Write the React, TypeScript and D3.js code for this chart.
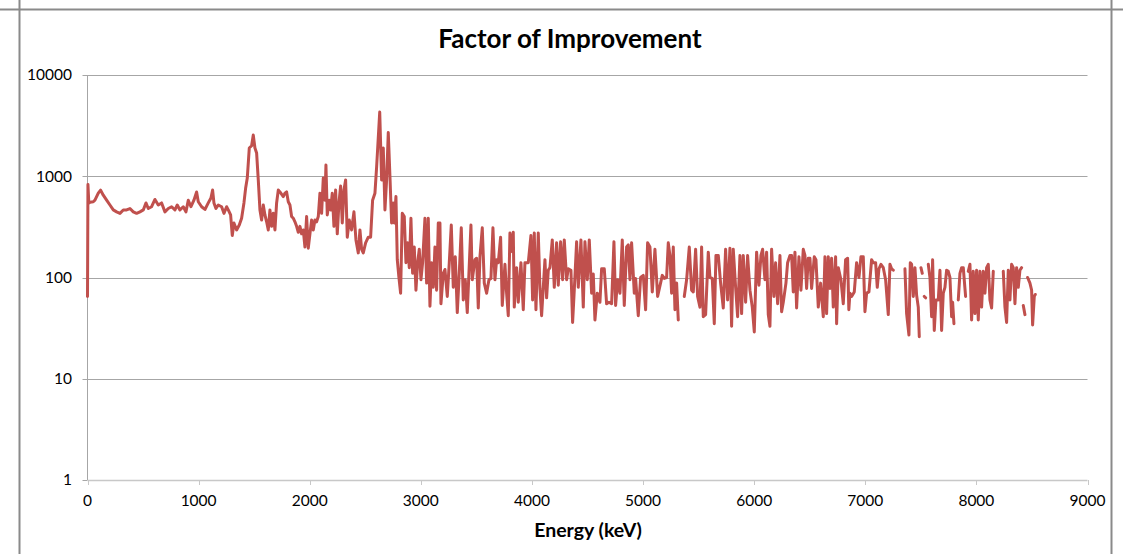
import React from "react";
import * as d3 from "d3";

// Energy (keV) and factor of improvement; null = gap in the series
const energyKeV: number[] = [
  0, 4, 12, 22, 52, 67, 97, 118, 142, 172, 202, 232, 262, 292, 322, 352, 382, 412, 442, 472,
  502, 526, 547, 577, 607, 637, 667, 697, 727, 757, 787, 808, 832, 862, 886, 907, 931, 958, 982, 997,
  1027, 1057, 1087, 1111, 1126, 1138, 1156, 1177, 1207, 1228, 1252, 1267, 1288, 1303, 1318, 1342, 1366, 1387, 1408, 1423,
  1438, 1456, 1477, 1492, 1507, 1522, 1537, 1552, 1567, 1582, 1597, 1612, 1627, 1642, 1657, 1672, 1687, 1702, 1717, 1732,
  1762, 1777, 1792, 1807, 1822, 1837, 1852, 1867, 1882, 1897, 1912, 1927, 1942, 1957, 1972, 1987, 2002, 2017, 2032, 2047,
  2062, 2077, 2092, 2107, 2122, 2137, 2146, 2158, 2176, 2188, 2203, 2218, 2233, 2248, 2263, 2278, 2293, 2308, 2323, 2338,
  2356, 2377, 2398, 2416, 2437, 2452, 2467, 2482, 2503, 2527, 2548, 2566, 2587, 2602, 2630,
  2647, 2662, 2677, 2692, 2707, 2722, 2737, 2752, 2761, 2776, 2788, 2803, 2818, 2833, 2851, 2866, 2881, 2896, 2911, 2926,
  2941, 2956, 2971, 2986, 3001, 3016, 3037, 3052, 3067, 3082, 3097, 3112, 3127, 3142, 3157, 3172, 3181, 3202, 3217, 3238,
  3256, 3274, 3292, 3310, 3328, 3346, 3364, 3382, 3400, 3418,
  3451, 3463, 3487, 3502, 3517, 3532, 3553, 3571, 3592, 3613, 3631, 3649, 3667, 3682, 3697, 3718, 3733, 3757, 3772, 3787,
  3802, 3810, 3832, 3841, 3862, 3877, 3901, 3922, 3937, 3967, 3991, 4006, 4021, 4036, 4057, 4072, 4087, 4117, 4132, 4147,
  4162, 4183, 4201, 4222, 4237, 4258, 4276, 4291, 4312, 4327, 4351, 4366, 4381, 4402, 4417, 4441, 4462, 4477, 4498, 4516,
  4537, 4552, 4567, 4588, 4612, 4627, 4651, 4672, 4693, 4717, 4738, 4753, 4771, 4792, 4813, 4831, 4852, 4867, 4882, 4897,
  4921, 4933, 4957, 4978, 5002, 5023, 5041, 5062, 5083, 5107, 5131,
  5173, 5191, 5212, 5227, 5242, 5257, 5272, 5287, 5302, 5317, 5340,
  5371, 5392, 5416, 5437, 5452, 5473, 5491, 5512, 5527, 5542, 5563, 5587, 5602, 5623, 5641, 5656, 5677, 5698, 5722, 5743,
  5761, 5782, 5797, 5812, 5833, 5851, 5872, 5887, 5902, 5923, 5941, 5962, 5983, 6001, 6022, 6043, 6061, 6076, 6097, 6112,
  6127, 6142, 6157, 6178, 6193, 6211, 6232, 6247, 6262, 6286, 6301, 6322, 6337, 6352, 6367, 6382, 6403, 6421, 6442, 6457,
  6472, 6487, 6502, 6517, 6541, 6556, 6577, 6598, 6622, 6637, 6652, 6667, 6682, 6697, 6712, 6733, 6742, 6757, 6781, 6802,
  6823, 6841, 6852, 6862, 6877, 6901, 6922, 6943, 6961, 6982, 6997, 7012, 7033, 7057, 7072, 7093, 7108, 7123, 7141, 7162,
  7183, 7207, 7222, 7237, 7252, 7300,
  7357, 7372, 7393, 7405, 7417, 7432, 7447, 7462, 7477, 7486, 7494,
  7501, 7513, 7522,
  7531, 7543, 7555,
  7567, 7582, 7597, 7606, 7621, 7636, 7657, 7672, 7687, 7702, 7717, 7732, 7747, 7762, 7777, 7786, 7798, 7815,
  7837, 7852, 7867, 7882, 7897, 7903, 7915,
  7927, 7942, 7957, 7972, 7987, 8002, 8017, 8032, 8047, 8062, 8077, 8092, 8107, 8122, 8137, 8152, 8200,
  8242, 8257, 8272, 8287, 8302, 8317, 8332, 8347, 8362, 8377, 8392, 8407, 8414,
  8422, 8437, 8450,
  8461, 8482, 8497, 8506, 8521, 8530,
];

const factor: (number | null)[] = [
  65, 830, 540, 555, 560, 580, 680, 730, 650, 580, 520, 465, 445, 430, 465, 465, 480, 445, 430, 445,
  465, 545, 480, 500, 590, 520, 545, 445, 480, 500, 465, 520, 465, 500, 445, 580, 500, 580, 700, 560,
  500, 470, 545, 610, 730, 545, 480, 520, 500, 430, 500, 465, 415, 260, 345, 295, 330, 385, 545, 760,
  960, 1900, 2000, 2550, 1900, 1700, 920, 465, 370, 520, 415, 355, 295, 465, 320, 430, 295, 545, 730, 700,
  630, 680, 700, 560, 520, 400, 385, 355, 320, 280, 320, 270, 295, 200, 400, 195, 270, 370, 295, 370,
  355, 400, 680, 430, 960, 580, 1290, 415, 580, 465, 680, 320, 730, 270, 545, 800, 345, 730, 920, 250,
  370, 295, 445, 235, 175, 295, 190, 175, 220, 250, 250, 580, 680, 1230, 4300,
  920, 1900, 465, 920, 2700, 1000, 345, 545, 345, 630, 150, 100, 70, 430, 400, 140, 220, 125, 385, 110,
  200, 75, 140, 190, 95, 140, 385, 88, 385, 52, 140, 80, 200, 75, 345, 345, 55, 110, 120, 65,
  140, 330, 80, 160, 45, 110, 310, 60, 95, 45,
  330, 95, 150, 155, 50, 160, 310, 88, 70, 95, 98, 310, 95, 150, 140, 250, 53, 135, 70, 42,
  275, 180, 280, 51, 125, 57, 140, 48, 140, 140, 260, 60, 275, 48, 275, 78, 42, 150, 63, 118,
  125, 235, 80, 220, 84, 225, 95, 235, 95, 122, 118, 36, 75, 225, 80, 235, 51, 225, 95, 235,
  70, 108, 38, 70, 57, 122, 122, 55, 57, 55, 225, 53, 95, 70, 235, 53, 200, 210, 95, 220,
  70, 98, 42, 100, 105, 48, 220, 200, 72, 190, 65,
  105, 98, 100, 220, 165, 70, 200, 48, 88, 38, null,
  65, 95, 200, 75, 72, 190, 65, 51, 200, 41, 43, 178, 100, 98, 35, 165, 165, 88, 50, 190,
  60, 195, 33, 190, 80, 41, 165, 44, 165, 57, 165, 75, 51, 29, 178, 84, 165, 190, 95, 178,
  43, 33, 190, 65, 140, 55, 165, 46, 57, 88, 140, 165, 165, 72, 178, 50, 160, 75, 190, 165,
  78, 155, 155, 78, 160, 150, 51, 88, 41, 160, 44, 160, 78, 155, 51, 160, 35, 125, 95, 55,
  150, 155, 48, 70, 65, 72, 140, 100, 160, 160, 46, 70, 72, 150, 140, 140, 80, 122, 135, 125,
  95, 43, 135, 122, 118, null,
  122, 44, 27, 140, 135, 65, 125, 67, 51, 26, null,
  125, 110, null,
  65, 63, null,
  135, 100, 41, 150, 30, 60, 60, 118, 30, 70, 80, 118, 115, 100, 41, 57, 35, null,
  60, 110, 125, 125, 78, 65, null,
  115, 135, 38, 115, 44, 118, 38, 115, 51, 115, 70, 125, 135, 60, 50, 115, null,
  115, 51, 36, 118, 60, 135, 125, 55, 125, 80, 118, 125, null,
  53, 43, null,
  100, 88, 75, 34, 65, 68,
];

const yTickValues: number[] = [1, 10, 100, 1000, 10000];
const xTickValues: number[] = [0, 1000, 2000, 3000, 4000, 5000, 6000, 7000, 8000, 9000];

const chartTitle = "Factor of Improvement";
const xAxisTitle = "Energy (keV)";

const W = 1123;
const H = 554;
const plot = { left: 87.5, right: 1087.5, top: 75, bottom: 480 };
const FONT = "Lato, 'Open Sans', sans-serif";

export default function App() {
  const x = d3.scaleLinear().domain([0, 9000]).range([plot.left, plot.right]);
  const y = d3.scaleLog().domain([1, 10000]).range([plot.bottom, plot.top]);

  const points = energyKeV.map((e, i) => ({ e, v: factor[i] }));
  const line = d3
    .line<{ e: number; v: number | null }>()
    .defined((d) => d.v != null)
    .x((d) => x(d.e))
    .y((d) => y(d.v as number));
  const path = line(points) || "";

  return (
    <svg
      width={W}
      height={H}
      style={{ position: "absolute", left: 0, top: 0, background: "#fff" }}
    >
      <rect x={0} y={0} width={W} height={H} fill="#ffffff" />
      {/* frame */}
      <line x1={0} x2={W} y1={9.5} y2={9.5} stroke="#8a8a8a" strokeWidth={2} />
      <line x1={19.5} x2={19.5} y1={0} y2={H} stroke="#8a8a8a" strokeWidth={2} />
      <line x1={1111.5} x2={1111.5} y1={0} y2={H} stroke="#8a8a8a" strokeWidth={2} />

      <text
        x={570}
        y={48}
        textAnchor="middle"
        fontFamily={FONT}
        fontWeight="bold"
        fontSize={26}
        fill="#000"
      >
        {chartTitle}
      </text>

      {/* gridlines */}
      {yTickValues.filter((v) => v > 1).map((v) => (
        <line
          key={"g" + v}
          x1={plot.left - 5}
          x2={plot.right}
          y1={Math.round(y(v)) + 0.5}
          y2={Math.round(y(v)) + 0.5}
          stroke="#a6a6a6"
          strokeWidth={1}
        />
      ))}
      {/* y axis */}
      <line x1={plot.left} x2={plot.left} y1={plot.top} y2={plot.bottom} stroke="#a6a6a6" strokeWidth={1} />
      <line x1={plot.left - 5} x2={plot.left} y1={plot.bottom + 0.5} y2={plot.bottom + 0.5} stroke="#a6a6a6" />
      {/* x axis */}
      <line x1={plot.left} x2={plot.right} y1={plot.bottom + 0.5} y2={plot.bottom + 0.5} stroke="#c8c8c8" strokeWidth={1.5} />
      {xTickValues.map((t) => (
        <line
          key={"xt" + t}
          x1={Math.round(x(t)) + 0.5}
          x2={Math.round(x(t)) + 0.5}
          y1={plot.bottom}
          y2={plot.bottom + 5}
          stroke="#c8c8c8"
        />
      ))}

      {yTickValues.map((v) => (
        <text
          key={"yl" + v}
          x={72}
          y={y(v)}
          dy="0.35em"
          textAnchor="end"
          fontFamily={FONT}
          fontSize={15.5}
          fill="#000"
        >
          {String(v)}
        </text>
      ))}
      {xTickValues.map((t) => (
        <text
          key={"xl" + t}
          x={x(t)}
          y={501}
          dy="0.35em"
          textAnchor="middle"
          fontFamily={FONT}
          fontSize={15.5}
          fill="#000"
        >
          {String(t)}
        </text>
      ))}
      <text
        x={588}
        y={530}
        dy="0.35em"
        textAnchor="middle"
        fontFamily={FONT}
        fontWeight="bold"
        fontSize={19.5}
        fill="#000"
      >
        {xAxisTitle}
      </text>

      <path
        d={path}
        fill="none"
        stroke="#c0504d"
        strokeWidth={3}
        strokeLinejoin="round"
        strokeLinecap="round"
      />
    </svg>
  );
}
